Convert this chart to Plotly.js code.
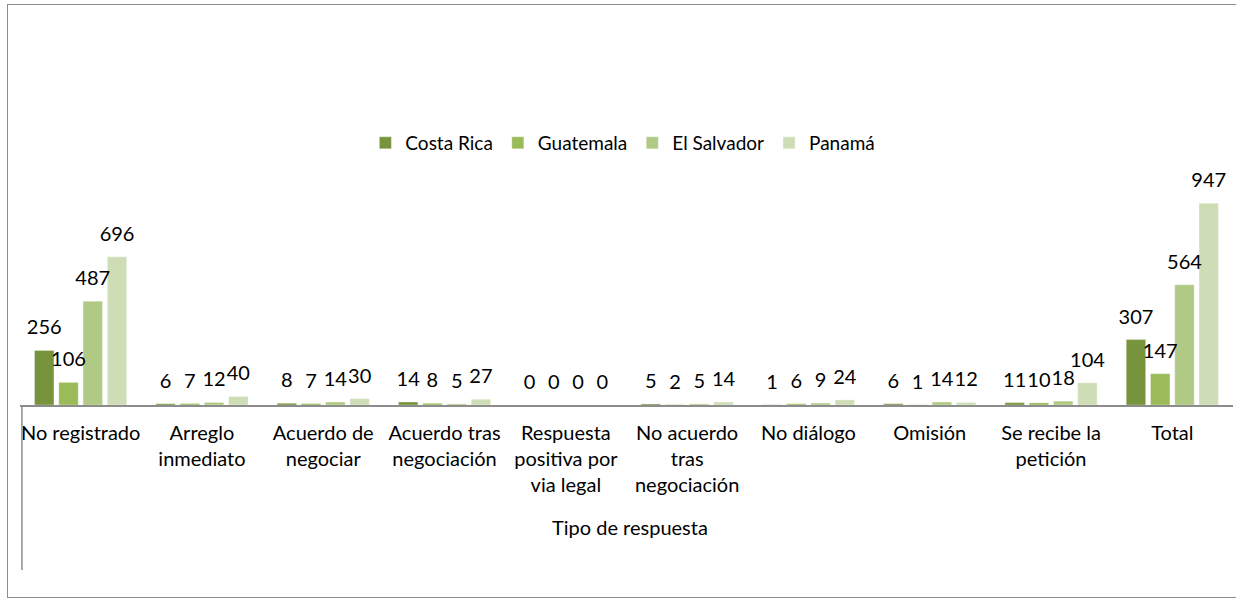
<!DOCTYPE html>
<html>
<head>
<meta charset="utf-8">
<script src="https://cdn.plot.ly/plotly-3.0.1.min.js"></script>
<style>
  html, body { margin:0; padding:0; background:#fff; overflow:hidden; }
  #chart { position:absolute; left:0; top:0; width:1236px; height:599px; }
  #frame { position:absolute; left:7px; top:4px; width:1240px; height:592px; border:1px solid #8c8c8c; pointer-events:none; }
</style>
</head>
<body>
<div id="chart"></div>
<div id="frame"></div>
<script>
const categories = [
  "No registrado",
  "Arreglo<br>inmediato",
  "Acuerdo de<br>negociar",
  "Acuerdo tras<br>negociación",
  "Respuesta<br>positiva por<br>via legal",
  "No acuerdo<br>tras<br>negociación",
  "No diálogo",
  "Omisión",
  "Se recibe la<br>petición",
  "Total"
];
const seriesNames = ["Costa Rica", "Guatemala", "El Salvador", "Panamá"];
const costaRica  = [256, 6, 8, 14, 0, 5, 1, 6, 11, 307];
const guatemala  = [106, 7, 7, 8, 0, 2, 6, 1, 10, 147];
const elSalvador = [487, 12, 14, 5, 0, 5, 9, 14, 18, 564];
const panama     = [696, 40, 30, 27, 0, 14, 24, 12, 104, 947];
const seriesValues = [costaRica, guatemala, elSalvador, panama];
const colors = ["#77933C", "#9BBB59", "#B0C984", "#CFDDB7"];

const FONT = "Lato, Noto Sans, sans-serif";
const FS = 20;

const barTraces = seriesValues.map((vals, i) => ({
  type: "bar",
  name: seriesNames[i],
  x: categories,
  y: vals,
  offsetgroup: String(i),
  marker: { color: colors[i], line: { color: "rgba(255,255,255,0.6)", width: 0.5 } },
  hoverinfo: "x+y+name"
}));

// data labels: grouped scatter text, lifted above the bars by an invisible marker
const labelTraces = seriesValues.map((vals, i) => ({
  type: "scatter",
  mode: "markers+text",
  x: categories,
  y: vals,
  offsetgroup: String(i),
  text: vals.map(String),
  textposition: "top center",
  textfont: { family: FONT, size: FS, color: "#000" },
  marker: { size: 16, color: "rgba(0,0,0,0)" },
  cliponaxis: false,
  showlegend: false,
  hoverinfo: "skip"
}));

const layout = {
  width: 1236,
  height: 599,
  margin: { l: 20, r: 3, t: 192, b: 194 },
  paper_bgcolor: "#fff",
  plot_bgcolor: "#fff",
  barmode: "group",
  scattermode: "group",
  bargap: 0.2,
  bargroupgap: 0.2,
  scattergap: 0.2,
  font: { family: FONT, size: FS, color: "#000" },
  showlegend: true,
  legend: {
    orientation: "h",
    x: 0.497, xanchor: "center",
    y: 1.23, yanchor: "middle",
    font: { family: FONT, size: 19, color: "#000" },
    itemwidth: 30,
    traceorder: "normal"
  },
  xaxis: {
    type: "category",
    showline: true,
    linecolor: "#8c8c8c",
    linewidth: 1.5,
    ticks: "",
    ticklabelstandoff: 9,
    showgrid: false,
    tickfont: { family: FONT, size: FS, color: "#000" },
    automargin: false
  },
  yaxis: {
    range: [0, 1000],
    visible: false,
    showgrid: false,
    zeroline: false
  },
  shapes: [
    { type: "line", xref: "paper", yref: "paper", x0: 0.0016, x1: 0.0016, y0: 0, y1: -0.775,
      line: { color: "#8c8c8c", width: 1.5 } }
  ],
  annotations: [
    { text: "Tipo de respuesta", xref: "paper", yref: "paper", x: 0.503, y: -0.571,
      xanchor: "center", yanchor: "middle", showarrow: false,
      font: { family: FONT, size: FS, color: "#000" } }
  ]
};

Plotly.newPlot("chart", barTraces.concat(labelTraces), layout, { staticPlot: true, displayModeBar: false });
</script>
</body>
</html>
